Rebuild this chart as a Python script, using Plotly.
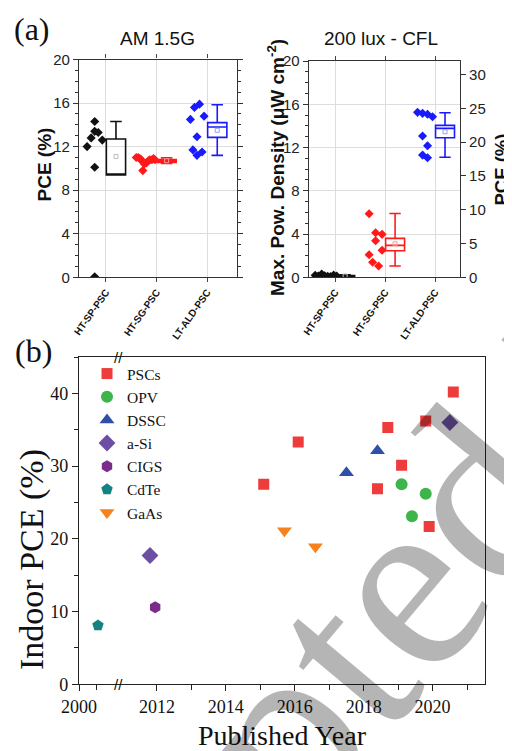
import plotly.graph_objects as go

# ---------------- data: panel (a) ----------------
categories = ["HT-SP-PSC", "HT-SG-PSC", "LT-ALD-PSC"]
cat_pos = [1, 2, 3]

# AM 1.5G PCE (%) individual devices
am_sp_pce = [12.0, 12.8, 14.3, 13.4, 13.3, 12.6, 10.1, 0.05]
am_sp_jit = [-0.37, -0.29, -0.22, -0.22, -0.15, -0.07, -0.22, -0.22]
am_sg_pce = [11.0, 11.0, 10.9, 10.8, 10.6, 10.4, 9.8, 10.5, 10.7, 10.8, 10.8, 10.9, 10.8]
am_sg_jit = [-0.40, -0.36, -0.33, -0.30, -0.27, -0.24, -0.27, -0.20, -0.16, -0.13, -0.09, -0.06, -0.03]
am_ald_pce = [14.5, 15.6, 15.9, 14.8, 12.9, 11.7, 11.2, 11.5]
am_ald_jit = [-0.33, -0.25, -0.15, -0.06, -0.20, -0.28, -0.20, -0.10]
# box statistics [SP, SG, ALD]
am_q1 = [9.4, 10.55, 12.85]
am_med = [9.4, 10.7, 13.8]
am_q3 = [12.7, 10.82, 14.2]
am_lo = [10.1, 10.45, 11.2]
am_hi = [14.3, 10.98, 15.85]
am_mean = [11.1, 10.7, 13.5]

# 200 lux CFL max power density (uW cm-2)
cfl_sp_pd = [0.18, 0.12, 0.30, 0.15, 0.10, 0.08, 0.20, 0.12]
cfl_sp_jit = [-0.40, -0.34, -0.27, -0.21, -0.15, -0.09, -0.03, 0.03]
cfl_sg_pd = [5.88, 4.12, 3.97, 3.38, 2.50, 2.09, 1.39, 1.04]
cfl_sg_jit = [-0.32, -0.19, -0.06, -0.19, -0.06, -0.32, -0.25, -0.13]
cfl_ald_pd = [15.25, 15.16, 15.07, 14.85, 13.06, 12.17, 11.30, 11.06]
cfl_ald_jit = [-0.35, -0.25, -0.15, -0.05, -0.25, -0.15, -0.25, -0.15]
cfl_q1 = [0.08, 2.45, 12.9]
cfl_med = [0.12, 2.95, 13.77]
cfl_q3 = [0.16, 3.6, 14.05]
cfl_lo = [0.05, 1.05, 11.1]
cfl_hi = [0.22, 5.9, 15.22]
cfl_mean = [0.12, 3.1, 13.46]
pce_per_pd = 1.6  # PCE (%) per uW cm-2 under 200 lux CFL

# ---------------- data: panel (b) ----------------
psc_year = [2015.1, 2016.1, 2018.4, 2018.7, 2019.1, 2019.8, 2019.9, 2020.6]
psc_pce = [27.5, 33.3, 26.9, 35.3, 30.1, 36.2, 21.7, 40.2]
opv_year = [2019.1, 2019.4, 2019.8]
opv_pce = [27.5, 23.1, 26.2]
dssc_year = [2017.5, 2018.4]
dssc_pce = [29.1, 32.1]
asi_year = [2011.8, 2020.5]
asi_pce = [17.7, 36.0]
cigs_year = [2011.95]
cigs_pce = [10.6]
cdte_year = [2000.55]
cdte_pce = [8.1]
gaas_year = [2015.7, 2016.6]
gaas_pce = [21.1, 18.9]
year_ticks = [2000, 2012, 2014, 2016, 2018, 2020]
year_minor = [2000.52, 2013, 2015, 2017, 2019, 2021]

BREAK_FROM = 2000.0
BREAK_TO = 2009.74   # where 2000 sits on the broken axis


def yr(v):
    """broken axis: years before 2005 are shifted next to 2012"""
    return [y - BREAK_FROM + BREAK_TO if y < 2005 else y for y in v]


BLACK, RED, BLUE = "#111111", "#ff1a1a", "#1a1aff"
SANS = "Liberation Sans"
SERIF = "Liberation Serif"

fig = go.Figure()


def add_group(vals, jit, cat, color, xa, ya):
    fig.add_trace(go.Scatter(
        x=[cat + j for j in jit], y=vals, xaxis=xa, yaxis=ya, mode="markers",
        marker=dict(symbol="diamond", size=7, color=color), showlegend=False,
        hoverinfo="y"))


def add_box(i, q1, med, q3, lo, hi, mean, color, xa, ya, meancol):
    fig.add_trace(go.Box(
        x=[cat_pos[i] + 0.2], q1=[q1[i]], median=[med[i]], q3=[q3[i]],
        lowerfence=[lo[i]], upperfence=[hi[i]], width=0.38, whiskerwidth=0.6,
        line=dict(color=color, width=1.6), fillcolor="rgba(0,0,0,0)",
        boxpoints=False, xaxis=xa, yaxis=ya, showlegend=False))
    fig.add_trace(go.Scatter(
        x=[cat_pos[i] + 0.2], y=[mean[i]], xaxis=xa, yaxis=ya, mode="markers",
        marker=dict(symbol="square-open", size=4, color=meancol, line=dict(width=1)),
        showlegend=False, hoverinfo="y"))


# panel a-left
add_group(am_sp_pce, am_sp_jit, 1, BLACK, "x", "y")
add_group(am_sg_pce, am_sg_jit, 2, RED, "x", "y")
add_group(am_ald_pce, am_ald_jit, 3, BLUE, "x", "y")
add_box(0, am_q1, am_med, am_q3, am_lo, am_hi, am_mean, BLACK, "x", "y", "#bbbbbb")
add_box(1, am_q1, am_med, am_q3, am_lo, am_hi, am_mean, RED, "x", "y", "#ff9999")
add_box(2, am_q1, am_med, am_q3, am_lo, am_hi, am_mean, BLUE, "x", "y", "#9999ff")

# panel a-right
add_group(cfl_sp_pd, cfl_sp_jit, 1, BLACK, "x2", "y2")
add_group(cfl_sg_pd, cfl_sg_jit, 2, RED, "x2", "y2")
add_group(cfl_ald_pd, cfl_ald_jit, 3, BLUE, "x2", "y2")
add_box(0, cfl_q1, cfl_med, cfl_q3, cfl_lo, cfl_hi, cfl_mean, BLACK, "x2", "y2", "#bbbbbb")
add_box(1, cfl_q1, cfl_med, cfl_q3, cfl_lo, cfl_hi, cfl_mean, RED, "x2", "y2", "#ff9999")
add_box(2, cfl_q1, cfl_med, cfl_q3, cfl_lo, cfl_hi, cfl_mean, BLUE, "x2", "y2", "#9999ff")
# PCE axis (invisible companion trace)
fig.add_trace(go.Scatter(x=[3 + j for j in cfl_ald_jit], y=[v * pce_per_pd for v in cfl_ald_pd],
                         xaxis="x2", yaxis="y3", mode="markers", marker=dict(opacity=0),
                         showlegend=False, hoverinfo="skip"))

# panel b
series_b = [
    ("PSCs", psc_year, psc_pce, "square", "#ee3b3b", 11),
    ("OPV", opv_year, opv_pce, "circle", "#3db54a", 12),
    ("DSSC", dssc_year, dssc_pce, "triangle-up", "#2e50a6", 13),
    ("a-Si", asi_year, asi_pce, "diamond", "#6c4fa3", 13),
    ("CIGS", cigs_year, cigs_pce, "hexagon", "#7d2b8b", 12),
    ("CdTe", cdte_year, cdte_pce, "pentagon", "#138382", 12),
    ("GaAs", gaas_year, gaas_pce, "triangle-down", "#f5821f", 13),
]
for name, xs, ys, sym, col, sz in series_b:
    fig.add_trace(go.Scatter(x=yr(xs), y=ys, xaxis="x3", yaxis="y4", mode="markers", name=name,
                             marker=dict(symbol=sym, size=sz, color=col), showlegend=True))

# page geometry: the figure sits 8px in from the page corner (body margin)
PW, PH, OFF = 512, 751, 8
W, H = PW - OFF, PH - OFF


def px(a, b):
    return [(a - OFF) / W, (b - OFF) / W]


def py(top, bottom):
    return [1 - (bottom - OFF) / H, 1 - (top - OFF) / H]


def pp(x, y):
    return (x - OFF) / W, 1 - (y - OFF) / H


tick_sans = dict(family=SANS, size=15, color="#222")
title_sans = dict(family=SANS, size=19, color="#111", weight="bold")
cat_font = dict(family=SANS, size=10, color="#111", weight="bold")
axcol = "#333"
grid = "#dddddd"

common_cat_x = dict(range=[0.47, 3.59], tickmode="array", tickvals=cat_pos, ticktext=categories,
                    tickangle=-55, tickfont=cat_font, ticks="outside", ticklen=4, showline=True,
                    linecolor=axcol, linewidth=1.2, mirror="ticks", showgrid=True, gridcolor=grid,
                    zeroline=False, automargin=False)
common_y = dict(range=[0, 20], dtick=4, tickfont=tick_sans, ticks="outside", ticklen=5,
                minor=dict(dtick=1, ticks="outside", ticklen=3, tickcolor=axcol, showgrid=False),
                showline=True, linecolor=axcol, linewidth=1.2, showgrid=True, gridcolor=grid,
                zeroline=False, tickcolor=axcol, automargin=False)

lx, ly = pp(87, 357)
fig.update_layout(
    width=W, height=H, margin=dict(l=0, r=0, t=0, b=0, autoexpand=False),
    paper_bgcolor="white", plot_bgcolor="white",
    xaxis=dict(domain=px(79, 237), anchor="y", **common_cat_x),
    yaxis=dict(domain=py(59.5, 277.3), anchor="x", mirror="ticks", **common_y),
    xaxis2=dict(domain=px(308.7, 460), anchor="y2", **{**common_cat_x, "range": [0.47, 3.5]}),
    yaxis2=dict(domain=py(61, 277.3), anchor="x2", mirror=False, **common_y),
    yaxis3=dict(overlaying="y2", side="right", anchor="x2", range=[0, 32], tickvals=[0, 5, 10, 15, 20, 25, 30],
                tickfont=tick_sans, ticks="outside", ticklen=5, showline=True, linecolor=axcol,
                linewidth=1.2, showgrid=False, zeroline=False, tickcolor=axcol, automargin=False),
    xaxis3=dict(domain=px(79, 485), anchor="y4", range=[BREAK_TO, 2021.52], tickmode="array",
                tickvals=yr(year_ticks), ticktext=[str(t) for t in year_ticks],
                tickfont=dict(family=SERIF, size=18, color="#111"), ticks="outside", ticklen=6,
                tickcolor="#222", automargin=False,
                minor=dict(tickmode="array", tickvals=yr(year_minor), ticks="outside", ticklen=5,
                           tickcolor="#222"),
                showline=True, linecolor="#222", linewidth=1.2, mirror=True, showgrid=False,
                zeroline=False,
                title=dict(text="Published Year", font=dict(family=SERIF, size=28, color="#111"),
                           standoff=12)),
    yaxis4=dict(domain=py(357, 684.3), anchor="x3", range=[0, 45], dtick=10,
                tickfont=dict(family=SERIF, size=18, color="#111"), ticks="outside", ticklen=6,
                tickcolor="#222", automargin=False,
                minor=dict(dtick=5, ticks="outside", ticklen=4, tickcolor="#222"),
                showline=True, linecolor="#222", linewidth=1.2, mirror=True, showgrid=False,
                zeroline=False),
    legend=dict(x=lx, y=ly, xanchor="left", yanchor="top", bgcolor="rgba(0,0,0,0)",
                font=dict(family=SERIF, size=15.5, color="#111"), tracegroupgap=0),
)

ann = [
    ("(a)", 32, 29, dict(family=SERIF, size=32, color="#111"), 0),
    ("(b)", 33, 351, dict(family=SERIF, size=32, color="#111"), 0),
    ("AM 1.5G", 157, 38, dict(family=SANS, size=19, color="#111"), 0),
    ("200 lux - CFL", 381, 38, dict(family=SANS, size=19, color="#111"), 0),
    ("PCE (%)", 43.5, 165, title_sans, -90),
    ("Max. Pow. Density (μW cm<sup>-2</sup>)", 276, 168, title_sans, -90),
    ("PCE (%)", 500.5, 170, dict(family=SANS, size=18.5, color="#111", weight="bold"), -90),
    ("Indoor PCE (%)", 32, 560, dict(family=SERIF, size=34, color="#111"), -90),
]
for text, ax_, ay_, f, ang in ann:
    xx, yy = pp(ax_, ay_)
    fig.add_annotation(xref="paper", yref="paper", x=xx, y=yy, text=text, showarrow=False,
                       xanchor="center", yanchor="middle", font=f, textangle=ang)
for yb in [0, 45]:
    fig.add_annotation(xref="x3", yref="y4", x=2010.88, y=yb, text="//", showarrow=False,
                       font=dict(family=SANS, size=15, color="#111"))

# watermark
wx, wy = pp(602, 346)
fig.add_annotation(xref="paper", yref="paper", x=wx, y=wy, text="Accepted Manuscript",
                   showarrow=False, textangle=-50, xanchor="center", yanchor="middle",
                   font=dict(family=SERIF, size=255, color="rgba(0,0,0,0.29)"))

fig.write_html("out.html")
